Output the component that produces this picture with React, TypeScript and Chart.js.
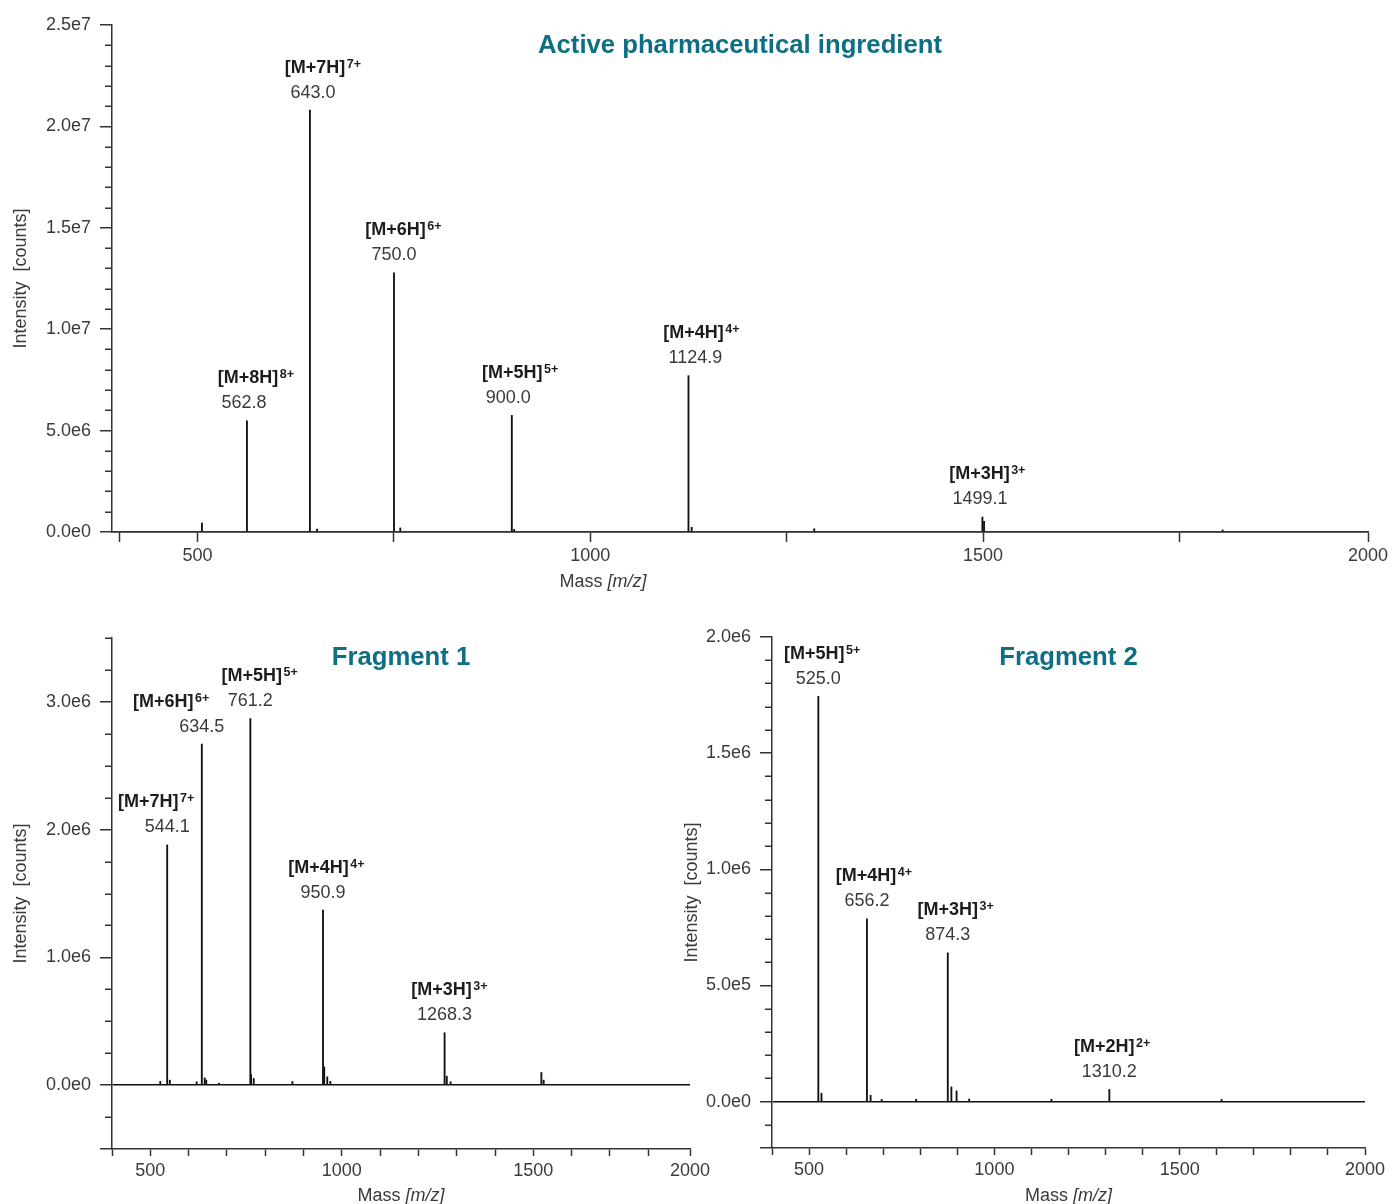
import React, { useEffect, useRef } from 'react';
import { Chart, registerables } from 'chart.js';

Chart.register(...registerables);

// ---------------- Data: Active pharmaceutical ingredient ----------------
const API_ION_MZ = [562.8, 643.0, 750.0, 900.0, 1124.9, 1499.1];
const API_ION_INTENSITY = [5.48e6, 2.08e7, 1.278e7, 5.75e6, 7.71e6, 7.4e5];
const API_ION_NAMES = ['[M+8H]', '[M+7H]', '[M+6H]', '[M+5H]', '[M+4H]', '[M+3H]'];
const API_ION_CHARGES = ['8+', '7+', '6+', '5+', '4+', '3+'];
const API_MINOR_MZ = [505.5, 652, 758, 903, 1129, 1285, 1501.2, 1805];
const API_MINOR_INTENSITY = [4.4e5, 1.5e5, 2.0e5, 1.3e5, 2.3e5, 1.6e5, 5.2e5, 1.0e5];
const API_X_TICKS = [400, 500, 750, 1000, 1250, 1500, 1750, 1990];
const API_X_TICK_LABELS = ['', '500', '', '1000', '', '1500', '', '2000'];
const API_Y_TICKS = [0, 5e6, 1e7, 1.5e7, 2e7, 2.5e7];

// ---------------- Data: Fragment 1 ----------------
const F1_ION_MZ = [544.1, 634.5, 761.2, 950.9, 1268.3];
const F1_ION_INTENSITY = [1.88e6, 2.67e6, 2.87e6, 1.37e6, 4.1e5];
const F1_ION_NAMES = ['[M+7H]', '[M+6H]', '[M+5H]', '[M+4H]', '[M+3H]'];
const F1_ION_CHARGES = ['7+', '6+', '5+', '4+', '3+'];
const F1_MINOR_MZ = [526, 551, 621, 642, 646, 679, 763, 770, 871, 954, 962, 970, 1274, 1284, 1521, 1527];
const F1_MINOR_INTENSITY = [2.9e4, 3.9e4, 2.6e4, 5.7e4, 4.0e4, 1.5e4, 8.3e4, 5.2e4, 2.9e4, 1.43e5, 6.5e4, 3.0e4, 7.0e4, 2.6e4, 9.9e4, 3.9e4];
const F1_X_TICKS = [400, 500, 600, 700, 800, 900, 1000, 1100, 1200, 1300, 1400, 1500, 1600, 1700, 1800, 1909];
const F1_X_TICK_LABELS = ['', '500', '', '', '', '', '1000', '', '', '', '', '1500', '', '', '', '2000'];
const F1_Y_TICKS = [-5e5, 0, 1e6, 2e6, 3e6];

// ---------------- Data: Fragment 2 ----------------
const F2_ION_MZ = [525.0, 656.2, 874.3, 1310.2];
const F2_ION_INTENSITY = [1.745e6, 7.87e5, 6.4e5, 5.2e4];
const F2_ION_NAMES = ['[M+5H]', '[M+4H]', '[M+3H]', '[M+2H]'];
const F2_ION_CHARGES = ['5+', '4+', '3+', '2+'];
const F2_MINOR_MZ = [533.5, 666, 696, 789, 884, 898, 932, 1154, 1613];
const F2_MINOR_INTENSITY = [3.6e4, 2.7e4, 9e3, 1e4, 6.3e4, 4.6e4, 1.1e4, 1e4, 9e3];
const F2_X_TICKS = [400, 500, 600, 700, 800, 900, 1000, 1100, 1200, 1300, 1400, 1500, 1600, 1700, 1800, 1900, 2000];
const F2_X_TICK_LABELS = ['', '500', '', '', '', '', '1000', '', '', '', '', '1500', '', '', '', '', '2000'];
const F2_Y_TICKS = [-2e5, 0, 5e5, 1e6, 1.5e6, 2e6];

// ---------------- Styling ----------------
const FONT = "'Liberation Sans', Arial, sans-serif";
const AXIS_COLOR = '#333333';
const TEXT_COLOR = '#3a3a3a';
const LABEL_COLOR = '#1c1c1c';
const PEAK_COLOR = '#111111';
const TITLE_COLOR = '#0d6e84';

Chart.defaults.font.family = FONT;
Chart.defaults.font.size = 18;
Chart.defaults.color = TEXT_COLOR;

const fmtExp = (v: number) => v.toExponential(1).replace('e+', 'e');

const decorPlugin = {
  id: 'decor',
  afterDraw(chart: any, _args: any, o: any) {
    const { ctx, chartArea: ca, scales } = chart;
    const xs = scales.x;
    const ys = scales.y;
    ctx.save();
    // minor y ticks
    ctx.strokeStyle = AXIS_COLOR;
    ctx.lineWidth = 1.5;
    const n = Math.round((o.yMax - o.yMin) / o.yMinorStep);
    for (let i = 0; i <= n; i++) {
      const v = o.yMin + i * o.yMinorStep;
      if (o.yMajor.some((m: number) => Math.abs(m - v) < o.yMinorStep * 1e-3)) continue;
      const y = Math.round(ys.getPixelForValue(v)) + 0.25;
      ctx.beginPath();
      ctx.moveTo(ca.left - o.minorLen, y);
      ctx.lineTo(ca.left, y);
      ctx.stroke();
    }
    // chart title
    ctx.fillStyle = TITLE_COLOR;
    ctx.font = `bold 25.7px ${FONT}`;
    ctx.textAlign = 'center';
    ctx.textBaseline = 'middle';
    ctx.fillText(o.title, (ca.left + ca.right) / 2, o.titleY);
    // x axis title: "Mass [m/z]"
    ctx.fillStyle = TEXT_COLOR;
    ctx.textBaseline = 'alphabetic';
    ctx.textAlign = 'left';
    const regFont = `18px ${FONT}`;
    const itFont = `italic 18px ${FONT}`;
    ctx.font = regFont;
    const w1 = ctx.measureText('Mass ').width;
    ctx.font = itFont;
    const w2 = ctx.measureText('[m/z]').width;
    const cx = ca.left + (ca.right - ca.left) * o.xTitleFrac;
    const x0 = cx - (w1 + w2) / 2;
    ctx.font = regFont;
    ctx.fillText('Mass ', x0, o.xTitleY + 6.5);
    ctx.font = itFont;
    ctx.fillText('[m/z]', x0 + w1, o.xTitleY + 6.5);
    // ion labels
    o.ionMz.forEach((mz: number, i: number) => {
      const px = xs.getPixelForValue(mz);
      const top = ys.getPixelForValue(o.ionInt[i]);
      // value
      ctx.font = `18px ${FONT}`;
      ctx.fillStyle = TEXT_COLOR;
      ctx.textAlign = 'center';
      ctx.fillText(mz.toFixed(1), px + o.valDx[i], top - 19 + 6.5);
      // ion name + superscript charge
      ctx.font = `bold 18px ${FONT}`;
      ctx.fillStyle = LABEL_COLOR;
      const mw = ctx.measureText(o.ionNames[i]).width;
      const mx = px + o.ionDx[i] - mw / 2;
      const base = top - 44 + 6.5;
      ctx.textAlign = 'left';
      ctx.fillText(o.ionNames[i], mx, base);
      ctx.font = `bold 12.5px ${FONT}`;
      ctx.fillText(o.ionCharges[i], mx + mw + 1.5, base - 5);
    });
    ctx.restore();
  },
};

type Spec = {
  left: number; top: number; w: number; h: number;
  yWidth: number; padRight: number; padTop: number; xHeight: number;
  xMin: number; xMax: number; xTicks: number[]; xTickLabels: string[]; xTickLen: number; xLabelPad: number;
  yMin: number; yMax: number; yTicks: number[]; yMinorStep: number; yTitlePad: number;
  title: string; titleY: number; xTitleFrac: number; xTitleY: number;
  ionMz: number[]; ionInt: number[]; ionNames: string[]; ionCharges: string[];
  ionDx: number[]; valDx: number[];
  minorMz: number[]; minorInt: number[];
};

const SPECS: Spec[] = [
  {
    left: 0, top: 0, w: 1392, h: 600,
    yWidth: 112, padRight: 24, padTop: 25, xHeight: 68,
    xMin: 391, xMax: 1990, xTicks: API_X_TICKS, xTickLabels: API_X_TICK_LABELS, xTickLen: 10, xLabelPad: 3,
    yMin: 0, yMax: 2.5e7, yTicks: API_Y_TICKS, yMinorStep: 1e6, yTitlePad: 10,
    title: 'Active pharmaceutical ingredient', titleY: 46, xTitleFrac: 0.391, xTitleY: 580,
    ionMz: API_ION_MZ, ionInt: API_ION_INTENSITY, ionNames: API_ION_NAMES, ionCharges: API_ION_CHARGES,
    ionDx: [1, 5, 1.5, 0.5, 5, -3], valDx: [-3, 3, 0, -3.5, 7, -2.5],
    minorMz: API_MINOR_MZ, minorInt: API_MINOR_INTENSITY,
  },
  {
    left: 0, top: 600, w: 720, h: 604,
    yWidth: 112, padRight: 30, padTop: 38, xHeight: 55,
    xMin: 400, xMax: 1909, xTicks: F1_X_TICKS, xTickLabels: F1_X_TICK_LABELS, xTickLen: 7, xLabelPad: 4,
    yMin: -5e5, yMax: 3.5e6, yTicks: F1_Y_TICKS, yMinorStep: 2.5e5, yTitlePad: 10,
    title: 'Fragment 1', titleY: 58, xTitleFrac: 0.5, xTitleY: 594,
    ionMz: F1_ION_MZ, ionInt: F1_ION_INTENSITY, ionNames: F1_ION_NAMES, ionCharges: F1_ION_CHARGES,
    ionDx: [-19, -38.5, 1.5, -4.5, -3], valDx: [0, 0, 0, 0, 0],
    minorMz: F1_MINOR_MZ, minorInt: F1_MINOR_INTENSITY,
  },
  {
    left: 680, top: 600, w: 712, h: 604,
    yWidth: 92, padRight: 27, padTop: 37, xHeight: 56,
    xMin: 400, xMax: 2000, xTicks: F2_X_TICKS, xTickLabels: F2_X_TICK_LABELS, xTickLen: 7, xLabelPad: 4,
    yMin: -2e5, yMax: 2e6, yTicks: F2_Y_TICKS, yMinorStep: 1e5, yTitlePad: 1,
    title: 'Fragment 2', titleY: 58, xTitleFrac: 0.5, xTitleY: 594,
    ionMz: F2_ION_MZ, ionInt: F2_ION_INTENSITY, ionNames: F2_ION_NAMES, ionCharges: F2_ION_CHARGES,
    ionDx: [-4, -1, 0, -5], valDx: [0, 0, 0, 0],
    minorMz: F2_MINOR_MZ, minorInt: F2_MINOR_INTENSITY,
  },
];

function buildConfig(s: Spec): any {
  const points = [
    ...s.ionMz.map((x, i) => ({ x, y: s.ionInt[i] })),
    ...s.minorMz.map((x, i) => ({ x, y: s.minorInt[i] })),
  ].sort((a, b) => a.x - b.x);
  return {
    type: 'bar',
    data: {
      datasets: [
        {
          data: points,
          backgroundColor: PEAK_COLOR,
          borderWidth: 0,
          barThickness: 1.2,
          grouped: false,
        },
      ],
    },
    options: {
      responsive: false,
      animation: false,
      events: [],
      layout: { padding: { left: 0, right: s.padRight, top: s.padTop, bottom: 0 } },
      plugins: {
        legend: { display: false },
        tooltip: { enabled: false },
        title: { display: false },
        decor: {
          yMin: s.yMin, yMax: s.yMax, yMajor: s.yTicks, yMinorStep: s.yMinorStep, minorLen: 7,
          title: s.title, titleY: s.titleY, xTitleFrac: s.xTitleFrac, xTitleY: s.xTitleY,
          ionMz: s.ionMz, ionInt: s.ionInt, ionNames: s.ionNames, ionCharges: s.ionCharges,
          ionDx: s.ionDx, valDx: s.valDx,
        },
      },
      scales: {
        x: {
          type: 'linear',
          min: s.xMin,
          max: s.xMax,
          offset: false,
          bounds: 'data',
          grid: {
            offset: false,
            drawOnChartArea: false,
            drawTicks: true,
            tickLength: s.xTickLen,
            tickColor: AXIS_COLOR,
            tickWidth: 1.5,
          },
          border: { display: true, color: AXIS_COLOR, width: 1.5 },
          ticks: {
            autoSkip: false,
            maxRotation: 0,
            minRotation: 0,
            padding: s.xLabelPad,
            color: TEXT_COLOR,
            font: { size: 18 },
            callback: (_v: any, i: number) => s.xTickLabels[i] ?? '',
          },
          afterBuildTicks: (sc: any) => {
            sc.ticks = s.xTicks.map((value) => ({ value }));
          },
          afterFit: (sc: any) => {
            sc.height = s.xHeight;
          },
        },
        y: {
          type: 'linear',
          min: s.yMin,
          max: s.yMax,
          bounds: 'data',
          grid: {
            drawOnChartArea: true,
            drawTicks: true,
            color: (c: any) => (c.tick && c.tick.value === 0 ? PEAK_COLOR : 'rgba(0,0,0,0)'),
            lineWidth: 1.5,
            tickLength: 12,
            tickColor: AXIS_COLOR,
            tickWidth: 1.5,
          },
          border: { display: true, color: AXIS_COLOR, width: 1.5 },
          title: {
            display: true,
            text: 'Intensity  [counts]',
            color: TEXT_COLOR,
            font: { size: 18 },
            padding: { top: s.yTitlePad, bottom: 0 },
          },
          ticks: {
            padding: 9,
            color: TEXT_COLOR,
            font: { size: 18 },
            callback: (v: any) => (Number(v) < 0 ? '' : fmtExp(Number(v))),
          },
          afterBuildTicks: (sc: any) => {
            sc.ticks = s.yTicks.map((value) => ({ value }));
          },
          afterFit: (sc: any) => {
            sc.width = s.yWidth;
          },
        },
      },
    },
    plugins: [decorPlugin],
  };
}

function SpectrumChart({ spec }: { spec: Spec }) {
  const ref = useRef<HTMLCanvasElement>(null);
  useEffect(() => {
    if (!ref.current) return;
    const chart = new Chart(ref.current, buildConfig(spec));
    return () => chart.destroy();
  }, [spec]);
  return (
    <canvas
      ref={ref}
      width={spec.w}
      height={spec.h}
      style={{ position: 'absolute', left: spec.left, top: spec.top, width: spec.w, height: spec.h }}
    />
  );
}

export default function App() {
  return (
    <div style={{ position: 'absolute', left: 0, top: 0, width: 1392, height: 1204, background: '#ffffff', overflow: 'hidden' }}>
      {SPECS.map((s, i) => (
        <SpectrumChart key={i} spec={s} />
      ))}
    </div>
  );
}
